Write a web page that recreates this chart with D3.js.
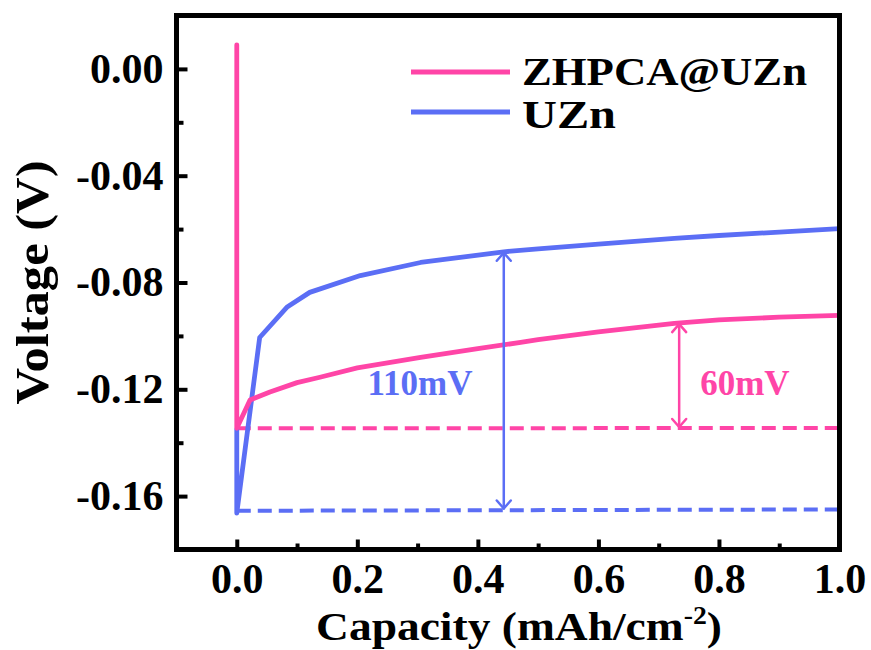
<!DOCTYPE html>
<html>
<head>
<meta charset="utf-8">
<script src="https://cdn.jsdelivr.net/npm/d3@7"></script>
<style>
  body { margin: 0; background: #fff; }
  text { font-family: "Liberation Serif", "Times New Roman", serif; font-weight: bold; }
</style>
</head>
<body>
<div id="chart"></div>
<script>
const width = 871;
const height = 650;

// capacity (mAh/cm-2) and voltage (V)
const pinkCap = [0, 0, 0.022, 0.055, 0.1, 0.138, 0.2, 0.305, 0.4, 0.471, 0.5, 0.6, 0.726, 0.8, 0.9, 1.0];
const pinkVolt = [0.009, -0.1346, -0.124, -0.121, -0.1175, -0.1155, -0.112, -0.108, -0.1048, -0.1024, -0.1014, -0.0985, -0.0953, -0.0940, -0.0930, -0.0923];

const blueCap = [0, 0, 0.038, 0.083, 0.121, 0.205, 0.305, 0.443, 0.5, 0.6, 0.726, 0.8, 0.9, 1.0];
const blueVolt = [-0.135, -0.1664, -0.1006, -0.0893, -0.0837, -0.0774, -0.0725, -0.0685, -0.0674, -0.0656, -0.0635, -0.0624, -0.0611, -0.0598];

const dashCap = [0, 1.0];
const pinkBase = [-0.1346, -0.1345];
const blueBase = [-0.1655, -0.1650];

// overpotential arrows
const arrowNames = ["110mV", "60mV"];
const arrowCap = [0.443, 0.734];
const arrowTop = [-0.0685, -0.0952];
const arrowBottom = [-0.1650, -0.1345];
const labelCap = [0.304, 0.843];
const labelVolt = [-0.1222, -0.1222];

const seriesNames = ["ZHPCA@UZn", "UZn"];
const xTicks = [0, 0.2, 0.4, 0.6, 0.8, 1.0];
const xMinor = [-0.1, 0.1, 0.3, 0.5, 0.7, 0.9];
const yTicks = [0, -0.04, -0.08, -0.12, -0.16];
const yMinor = [-0.02, -0.06, -0.10, -0.14, -0.18];

const pink = "#ff45a7";
const blue = "#5b6ef5";
const colors = [pink, blue];

const plotLeft = 176.5, plotRight = 839.5, plotTop = 15.5, plotBottom = 549.5;

const svg = d3.select("#chart")
  .append("svg")
  .attr("width", width)
  .attr("height", height);

const x = d3.scaleLinear().domain([-0.1, 1.0]).range([plotLeft, plotRight]);
const y = d3.scaleLinear().domain([-0.18, 0.02]).range([plotBottom, plotTop]);

// axes, ticks pointing in
svg.append("g")
  .attr("transform", `translate(0,${plotBottom})`)
  .call(d3.axisBottom(x).tickValues(xTicks).tickSize(-10).tickPadding(14).tickFormat(d => d.toFixed(1)));
svg.append("g")
  .attr("transform", `translate(0,${plotBottom})`)
  .call(d3.axisBottom(x).tickValues(xMinor).tickSize(-6).tickFormat(""));

svg.append("g")
  .attr("transform", `translate(${plotLeft},0)`)
  .call(d3.axisLeft(y).tickValues(yTicks).tickSize(-11).tickPadding(13).tickFormat(d => d.toFixed(2)));
svg.append("g")
  .attr("transform", `translate(${plotLeft},0)`)
  .call(d3.axisLeft(y).tickValues(yMinor).tickSize(-7).tickFormat(""));

svg.selectAll(".domain").remove();
svg.selectAll(".tick line").attr("stroke", "#000").attr("stroke-width", 4);
svg.selectAll(".tick text")
  .attr("fill", "#000")
  .style("font-size", "42px")
  .style("font-family", "'Liberation Serif', 'Times New Roman', serif")
  .style("font-weight", "bold");

const line = d3.line().x(d => x(d[0])).y(d => y(d[1]));

// dashed baselines
[blueBase, pinkBase].forEach((vals, i) => {
  svg.append("path")
    .attr("d", line(dashCap.map((c, j) => [c, vals[j]])))
    .attr("fill", "none")
    .attr("stroke", i === 0 ? blue : pink)
    .attr("stroke-width", 4)
    .attr("stroke-dasharray", "14,7");
});

// curves
svg.append("path")
  .attr("d", line(blueCap.map((c, i) => [c, blueVolt[i]])))
  .attr("fill", "none")
  .attr("stroke", blue)
  .attr("stroke-width", 4.8)
  .attr("stroke-linejoin", "round")
  .attr("stroke-linecap", "round");

svg.append("path")
  .attr("d", line(pinkCap.map((c, i) => [c, pinkVolt[i]])))
  .attr("fill", "none")
  .attr("stroke", pink)
  .attr("stroke-width", 4.8)
  .attr("stroke-linejoin", "round")
  .attr("stroke-linecap", "round");

// double arrows
arrowNames.forEach((name, i) => {
  const c = colors[1 - i];
  const ax = x(arrowCap[i]);
  const y1 = y(arrowTop[i]);
  const y2 = y(arrowBottom[i]);
  const g = svg.append("g")
    .attr("stroke", c)
    .attr("stroke-width", 2.5)
    .attr("fill", "none")
    .attr("stroke-linecap", "round")
    .attr("stroke-linejoin", "round");
  g.append("line").attr("x1", ax).attr("x2", ax).attr("y1", y1 + 1).attr("y2", y2 - 1);
  g.append("path").attr("d", `M${ax - 7},${y1 + 9}L${ax},${y1 + 1}L${ax + 7},${y1 + 9}`);
  g.append("path").attr("d", `M${ax - 7},${y2 - 9}L${ax},${y2 - 1}L${ax + 7},${y2 - 9}`);

  svg.append("text")
    .attr("x", x(labelCap[i]))
    .attr("y", y(labelVolt[i]))
    .attr("text-anchor", "middle")
    .attr("fill", c)
    .style("font-size", "35px")
    .text(name);
});

// frame
svg.append("rect")
  .attr("x", plotLeft)
  .attr("y", plotTop)
  .attr("width", plotRight - plotLeft)
  .attr("height", plotBottom - plotTop)
  .attr("fill", "none")
  .attr("stroke", "#000")
  .attr("stroke-width", 5);

// legend
seriesNames.forEach((name, i) => {
  const ly = 72 + i * 40;
  svg.append("line")
    .attr("x1", 411).attr("x2", 510)
    .attr("y1", ly).attr("y2", ly)
    .attr("stroke", colors[i])
    .attr("stroke-width", 4.8);
  svg.append("text")
    .attr("x", 522)
    .attr("y", 85 + i * 43)
    .attr("fill", "#000")
    .style("font-size", "39px")
    .attr("textLength", i === 0 ? 285 : 94)
    .attr("lengthAdjust", "spacingAndGlyphs")
    .text(name);
});

// axis titles
const xTitle = svg.append("text")
  .attr("transform", "translate(519,640) scale(1.11,1)")
  .attr("text-anchor", "middle")
  .attr("fill", "#000")
  .style("font-size", "41px");
xTitle.append("tspan").text("Capacity (mAh/cm");
xTitle.append("tspan").attr("dy", -16).style("font-size", "25px").text("-2");
xTitle.append("tspan").attr("dy", 16).text(")");

svg.append("text")
  .attr("transform", `translate(48,${(plotTop + plotBottom) / 2}) rotate(-90) scale(1.1,1)`)
  .attr("text-anchor", "middle")
  .attr("fill", "#000")
  .style("font-size", "46px")
  .text("Voltage (V)");
</script>
</body>
</html>
